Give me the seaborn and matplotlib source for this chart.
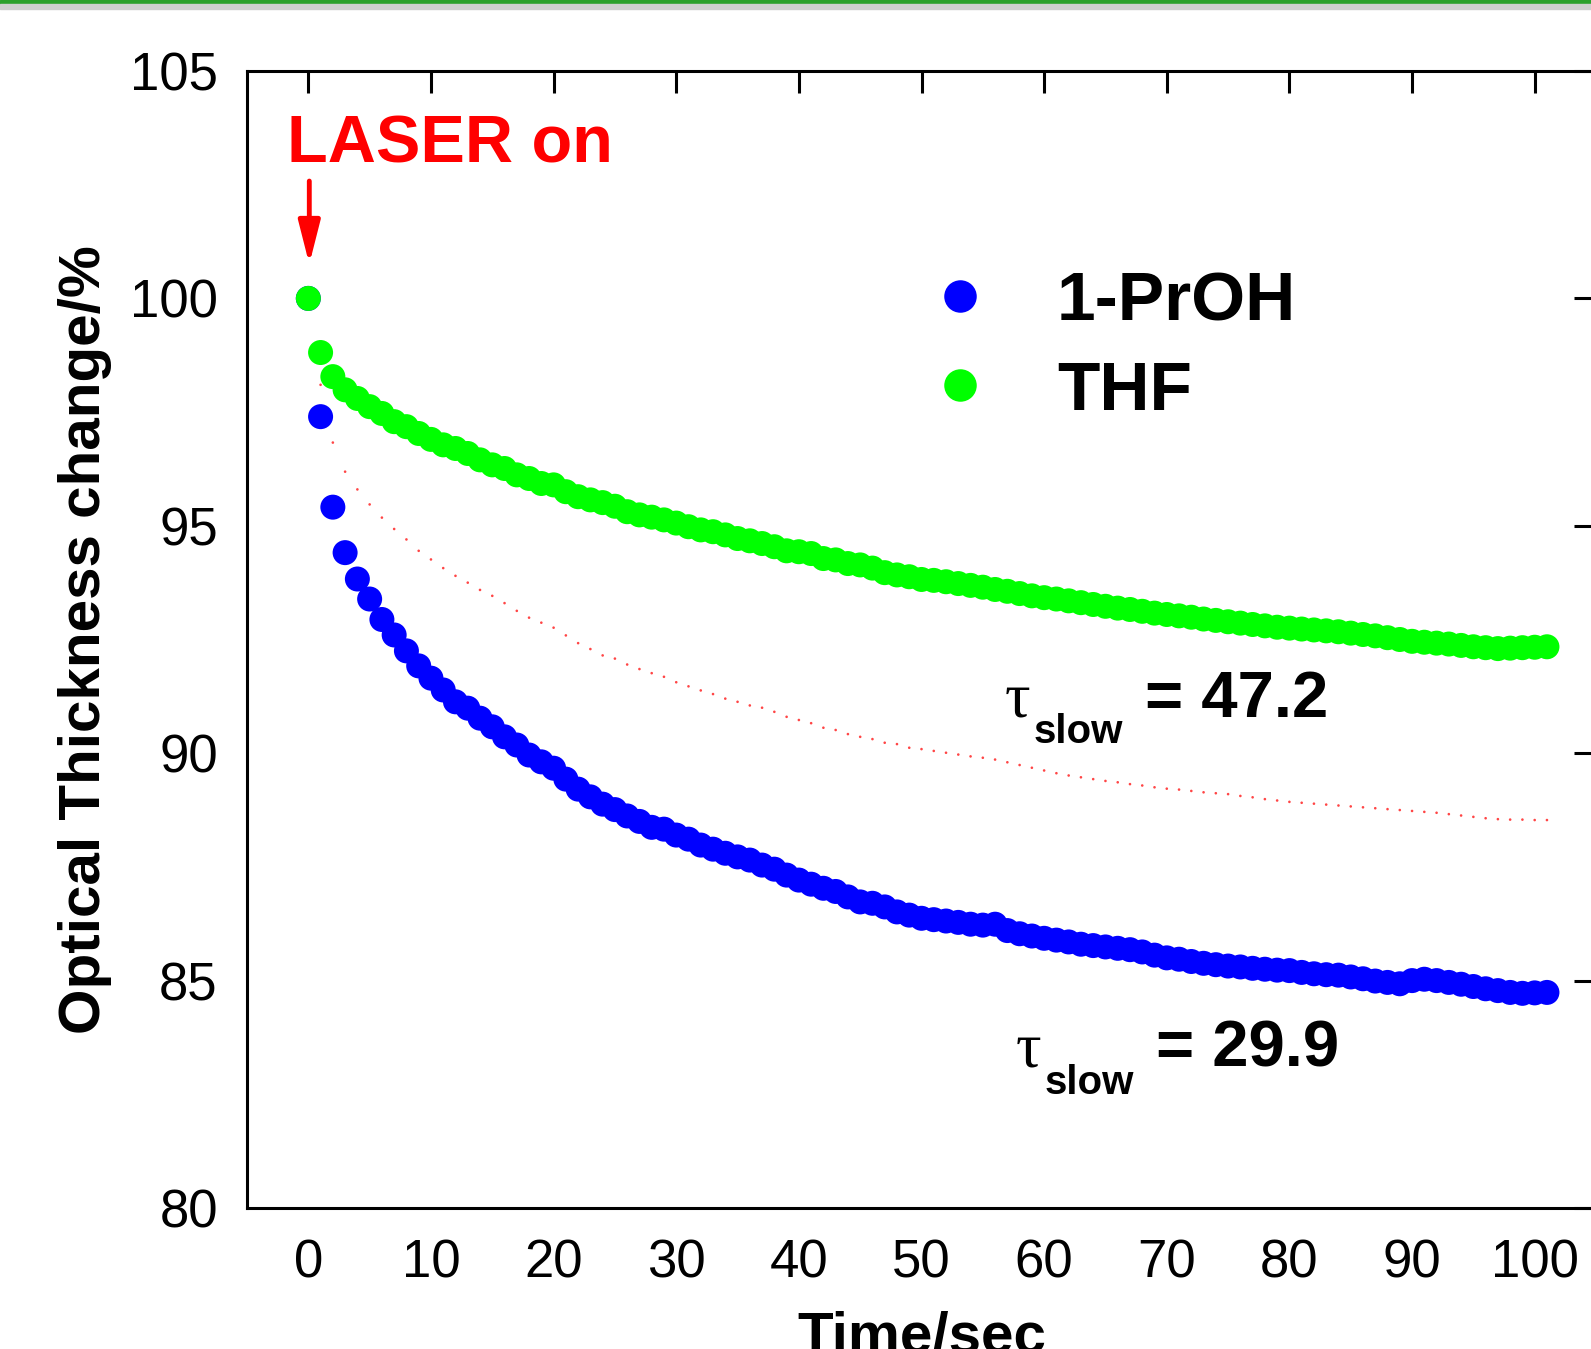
"""optical thickness change of the film after the laser is switched on"""

import pandas as pd
import matplotlib
matplotlib.use("Agg")
import matplotlib.pyplot as plt
from matplotlib.patches import Rectangle
import seaborn as sns


# time in seconds, one reading per second
time_sec = list(range(0, 102))

propanol = [100.0, 97.40, 95.41, 94.41, 93.83, 93.39, 92.94, 92.60, 92.25, 91.92,
            91.65, 91.39, 91.13, 90.99, 90.77, 90.58, 90.36, 90.18, 89.96, 89.81,
            89.67, 89.43, 89.21, 89.04, 88.88, 88.76, 88.62, 88.50, 88.37, 88.33,
            88.20, 88.11, 87.98, 87.89, 87.80, 87.72, 87.65, 87.54, 87.45, 87.32,
            87.21, 87.12, 87.03, 86.96, 86.84, 86.73, 86.70, 86.62, 86.51, 86.44,
            86.37, 86.34, 86.31, 86.28, 86.24, 86.22, 86.24, 86.10, 86.03, 85.98,
            85.93, 85.89, 85.85, 85.80, 85.77, 85.74, 85.71, 85.68, 85.63, 85.56,
            85.50, 85.47, 85.42, 85.38, 85.35, 85.32, 85.30, 85.27, 85.25, 85.23,
            85.22, 85.18, 85.15, 85.13, 85.12, 85.08, 85.04, 84.99, 84.96, 84.93,
            85.00, 85.03, 85.00, 84.96, 84.92, 84.87, 84.82, 84.78, 84.74, 84.72,
            84.73, 84.74]

thf = [100.0, 98.81, 98.28, 97.99, 97.80, 97.62, 97.47, 97.29, 97.18, 97.03,
       96.90, 96.78, 96.70, 96.59, 96.45, 96.34, 96.26, 96.12, 96.04, 95.93,
       95.90, 95.75, 95.64, 95.57, 95.51, 95.43, 95.31, 95.24, 95.19, 95.13,
       95.06, 94.98, 94.91, 94.87, 94.80, 94.72, 94.67, 94.61, 94.54, 94.45,
       94.43, 94.39, 94.28, 94.25, 94.17, 94.14, 94.07, 93.97, 93.92, 93.88,
       93.82, 93.80, 93.77, 93.73, 93.69, 93.65, 93.60, 93.56, 93.51, 93.46,
       93.42, 93.39, 93.35, 93.31, 93.27, 93.23, 93.19, 93.16, 93.12, 93.08,
       93.05, 93.02, 92.99, 92.95, 92.92, 92.89, 92.86, 92.83, 92.80, 92.77,
       92.75, 92.73, 92.71, 92.69, 92.67, 92.64, 92.61, 92.58, 92.54, 92.50,
       92.46, 92.44, 92.42, 92.40, 92.37, 92.34, 92.32, 92.30, 92.31, 92.32,
       92.33, 92.34]

# dotted red curve, starts at t = 1 s
fit_time = list(range(1, 102))
fit_value = [98.10, 96.83, 96.19, 95.80, 95.47, 95.18, 94.93, 94.70, 94.45, 94.26,
             94.07, 93.90, 93.75, 93.59, 93.46, 93.30, 93.13, 92.98, 92.87, 92.76,
             92.59, 92.42, 92.29, 92.15, 92.08, 91.95, 91.85, 91.76, 91.68, 91.56,
             91.47, 91.38, 91.30, 91.20, 91.13, 91.05, 91.00, 90.91, 90.80, 90.73,
             90.66, 90.56, 90.51, 90.42, 90.36, 90.31, 90.23, 90.20, 90.12, 90.09,
             90.05, 90.01, 89.97, 89.93, 89.90, 89.86, 89.80, 89.74, 89.68, 89.62,
             89.56, 89.51, 89.47, 89.43, 89.39, 89.36, 89.32, 89.29, 89.25, 89.22,
             89.20, 89.17, 89.14, 89.12, 89.10, 89.06, 89.03, 88.99, 88.96, 88.93,
             88.91, 88.89, 88.87, 88.85, 88.83, 88.81, 88.79, 88.77, 88.75, 88.73,
             88.71, 88.69, 88.66, 88.63, 88.60, 88.57, 88.55, 88.54, 88.54, 88.53,
             88.53]

sample_names = ["1-PrOH", "THF"]
tau_labels = ["= 47.2", "= 29.9"]

x_ticks = list(range(0, 101, 10))
y_ticks = list(range(80, 106, 5))

df = pd.DataFrame({
    "time": time_sec + time_sec,
    "value": propanol + thf,
    "sample": [sample_names[0]] * len(time_sec) + [sample_names[1]] * len(time_sec),
})
fit_df = pd.DataFrame({"time": fit_time, "value": fit_value})

sns.set_style("white")
plt.rcParams["font.family"] = ["Liberation Sans", "DejaVu Sans"]
plt.rcParams["text.color"] = "black"
plt.rcParams["axes.labelcolor"] = "black"

fig = plt.figure(figsize=(15.91, 13.49), dpi=100)
W, H = 1591, 1349
ax = fig.add_axes([247 / W, (H - 1208) / H, (1596 - 247) / W, (1208 - 71) / H])

sns.scatterplot(data=fit_df, x="time", y="value", color="#ff4545", s=3.5,
                edgecolor="none", legend=False, ax=ax)
sns.scatterplot(data=df, x="time", y="value", hue="sample",
                palette={"1-PrOH": "#0000ff", "THF": "#00ff00"},
                s=324, edgecolor="none", linewidth=0, ax=ax)

ax.set_xlim(-5, 105)
ax.set_ylim(80, 105)
ax.set_xticks(x_ticks)
ax.set_yticks(y_ticks)

for side in ["left", "right", "top", "bottom"]:
    ax.spines[side].set_visible(True)
    ax.spines[side].set_color("black")
    ax.spines[side].set_linewidth(2.2)

ax.tick_params(direction="in", length=16, width=2.2, top=True, right=True,
               labelsize=38, colors="black")
ax.tick_params(axis="x", pad=22)
ax.tick_params(axis="y", pad=21)

# the x label is cut by the bottom edge in the source picture as well
ax.set_xlabel("Time/sec", fontsize=42, fontweight="bold", labelpad=16)
ax.set_ylabel("Optical Thickness change/%", fontsize=42, fontweight="bold", labelpad=13)

handles, labels = ax.get_legend_handles_labels()
ax.legend(handles, labels, loc="center left",
          bbox_to_anchor=(925 / W, (H - 347) / H), bbox_transform=fig.transFigure,
          frameon=False, prop={"weight": "bold", "size": 50},
          markerscale=1.3, handlelength=1.0, handletextpad=0.9,
          labelspacing=0.36, borderpad=0, borderaxespad=0)

# laser marker
ax.text(-1.7, 102.98, "LASER on", color="#ff0000", fontsize=48, fontweight="bold",
        ha="left", va="baseline")
ax.annotate("", xy=(0.08, 100.75), xytext=(0.08, 102.58),
            arrowprops=dict(arrowstyle="-|>,head_length=1.3,head_width=0.33",
                            mutation_scale=20, color="#ff0000", lw=3.5,
                            shrinkA=0, shrinkB=0))

# time constants
tau_pos = [(56.8, 90.80, 59.1, 90.22, 68.2), (57.7, 83.12, 60.0, 82.51, 69.1)]
for (tx, ty, sx, sy, ex), lab in zip(tau_pos, tau_labels):
    ax.text(tx, ty, "τ", fontsize=46, family="Liberation Serif", ha="left", va="baseline")
    ax.text(sx, sy, "slow", fontsize=29, fontweight="bold", ha="left", va="baseline")
    ax.text(ex, ty, lab, fontsize=47, fontweight="bold", ha="left", va="baseline")

# window border at the top of the screenshot
fig.patches.append(Rectangle((0, 1 - 4 / H), 1, 4 / H, transform=fig.transFigure,
                             color="#2ca02c", zorder=10))
fig.patches.append(Rectangle((0, 1 - 9 / H), 1, 5 / H, transform=fig.transFigure,
                             color="#cfcfcf", zorder=10))

fig.savefig("out.png", dpi=100)
